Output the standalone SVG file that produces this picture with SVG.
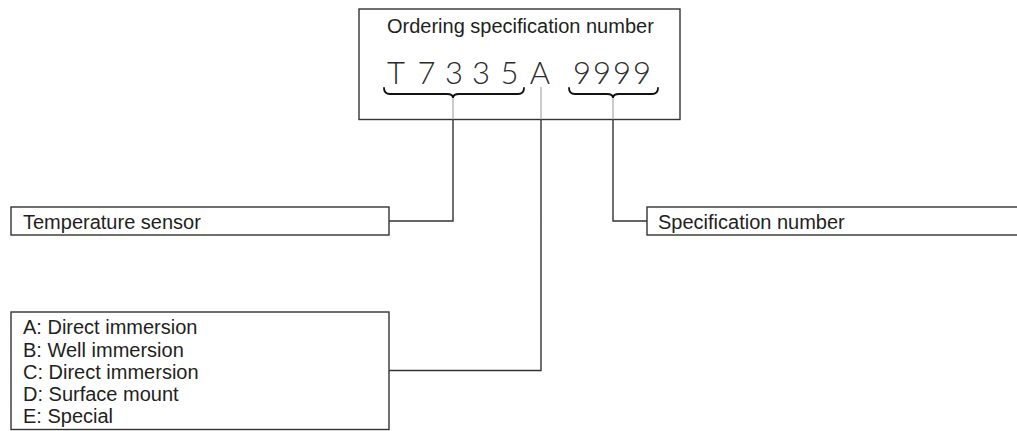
<svg xmlns="http://www.w3.org/2000/svg" width="1017" height="431" viewBox="0 0 1017 431">
<style>
.box{fill:#fff;stroke:#333;stroke-width:1.4}
.lbl{font-family:"Liberation Sans",Arial,sans-serif;font-size:20px;fill:#231f20}
.code{font-family:"Lato","Liberation Sans",sans-serif;font-weight:300;font-size:31px;fill:#2b2b2b;text-anchor:middle}
.brace{fill:none;stroke:#111;stroke-width:1.8;stroke-linecap:round}
.inner{stroke:#aaa;stroke-width:1.2;fill:none}
.conn{stroke:#333;stroke-width:1.4;fill:none}
</style>
<rect width="1017" height="431" fill="#fff"/>
<g id="order">
<rect class="box" x="359" y="9" width="321" height="110.5"/>
<text class="lbl" x="387" y="33">Ordering specification number</text>
<text class="code" x="396 426.5 454 481 509.5 540 582 602 622 642" y="84">T7335A9999</text>
<path class="brace" d="M384,88 Q384,94 390,94 L447,94 Q453,94 453,98 Q453,94 459,94 L518,94 Q524,94 524,88"/>
<path class="brace" d="M569,88 Q569,94 575,94 L607,94 Q613,94 613,98 Q613,94 619,94 L652,94 Q658,94 658,88"/>
</g>
<g id="temp">
<rect class="box" x="11" y="207" width="378" height="28"/>
<text class="lbl" x="23" y="229">Temperature sensor</text>
</g>
<g id="spec">
<rect class="box" x="647" y="207" width="380" height="28"/>
<text class="lbl" x="658" y="229">Specification number</text>
</g>
<g id="type">
<rect class="box" x="11" y="312" width="378" height="117.5"/>
<text class="lbl" x="23" y="334">A: Direct immersion</text>
<text class="lbl" x="23" y="356.5">B: Well immersion</text>
<text class="lbl" x="23" y="379">C: Direct immersion</text>
<text class="lbl" x="23" y="401">D: Surface mount</text>
<text class="lbl" x="23" y="423">E: Special</text>
</g>
<g id="connectors">
<path class="inner" d="M453,98 V119.5 M613,98 V119.5 M541,87 V119.5"/>
<path class="conn" d="M453,119.5 V221 H389 M613,119.5 V221 H647 M541,119.5 V370.5 H389"/>
</g>
</svg>
